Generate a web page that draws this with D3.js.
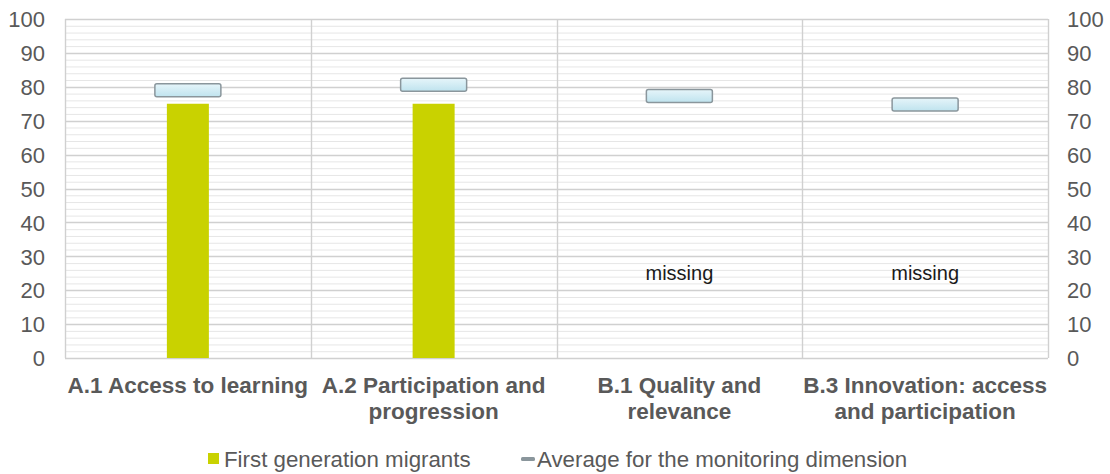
<!DOCTYPE html>
<html>
<head>
<meta charset="utf-8">
<script src="https://cdn.jsdelivr.net/npm/d3@7"></script>
<style>
  body { margin: 0; background: #fff; }
  text { font-family: "Liberation Sans", Arial, sans-serif; }
</style>
</head>
<body>
<div id="chart"></div>
<script>
var categories = [["A.1 Access to learning"], ["A.2 Participation and", "progression"], ["B.1 Quality and", "relevance"], ["B.3 Innovation: access", "and participation"]];
var migrants = [75, 75, null, null];
var averages = [79, 80.6, 77.3, 74.8];
var yTicks = [0, 10, 20, 30, 40, 50, 60, 70, 80, 90, 100];
var legendLabels = ["First generation migrants", "Average for the monitoring dimension"];

var W = 1110, H = 474;
var margin = {left: 65, right: 62, top: 19, bottom: 116};

var svg = d3.select('#chart').append('svg')
	.attr('width', W).attr('height', H);

var defs = svg.append('defs');
var grad = defs.append('linearGradient').attr('id', 'avgGrad')
	.attr('x1', 0).attr('y1', 0).attr('x2', 0).attr('y2', 1);
grad.append('stop').attr('offset', '0%').attr('stop-color', '#e6f5fa');
grad.append('stop').attr('offset', '100%').attr('stop-color', '#bfe3ee');

var x = d3.scaleBand().domain(d3.range(categories.length))
	.range([margin.left, W - margin.right]).padding(0);
var y = d3.scaleLinear().domain([0, 100]).range([H - margin.bottom, margin.top]);

// minor grid
var g = svg.append('g');
g.selectAll('.minor').data(d3.range(0, 101, 2).filter(function(v){ return v % 10 != 0; }))
	.enter().append('line')
	.attr('x1', margin.left).attr('x2', W - margin.right)
	.attr('y1', function(d){ return y(d) + 0.5; }).attr('y2', function(d){ return y(d) + 0.5; })
	.attr('stroke', '#e6e6e6').attr('stroke-width', 1);
// major grid
g.selectAll('.major').data(yTicks).enter().append('line')
	.attr('x1', margin.left).attr('x2', W - margin.right)
	.attr('y1', function(d){ return Math.round(y(d)) + 0.5; }).attr('y2', function(d){ return Math.round(y(d)) + 0.5; })
	.attr('stroke', '#d0d0d0').attr('stroke-width', 1.4);
// vertical separators
g.selectAll('.sep').data(d3.range(categories.length + 1)).enter().append('line')
	.attr('x1', function(i){ return Math.round(margin.left + i * x.step()) + 0.5; })
	.attr('x2', function(i){ return Math.round(margin.left + i * x.step()) + 0.5; })
	.attr('y1', y(100)).attr('y2', y(0))
	.attr('stroke', '#d0d0d0').attr('stroke-width', 1.4);

// axes
var axL = svg.append('g').attr('transform', 'translate(' + (margin.left - 20) + ',0)')
	.call(d3.axisLeft(y).tickValues(yTicks).tickSize(0).tickPadding(0));
var axR = svg.append('g').attr('transform', 'translate(' + (W - margin.right + 19) + ',0)')
	.call(d3.axisRight(y).tickValues(yTicks).tickSize(0).tickPadding(0));
[axL, axR].forEach(function(a){
	a.select('.domain').remove();
	a.selectAll('text').attr('fill', '#595959').style('font-size', '22px')
		.style('font-family', '"Liberation Sans", Arial, sans-serif').attr('dy', '0.35em');
});

// bars
svg.selectAll('.bar').data(migrants).enter()
	.filter(function(d){ return d != null; })
	.append('rect')
	.attr('x', function(d, i){ return x(i) + x.bandwidth() / 2 - 21; })
	.attr('width', 42)
	.attr('y', function(d){ return y(d); })
	.attr('height', function(d){ return y(0) - y(d); })
	.attr('fill', '#c9d200');

// "missing" labels
migrants.forEach(function(d, i){
	if (d == null) {
		svg.append('text').attr('x', x(i) + x.bandwidth() / 2).attr('y', y(25))
			.attr('text-anchor', 'middle').attr('dy', '0.35em')
			.style('font-size', '20px').attr('fill', '#1a1a1a').text('missing');
	}
});

// average markers
svg.selectAll('.avg').data(averages).enter().append('rect')
	.attr('x', function(d, i){ return x(i) + x.bandwidth() / 2 - 33; })
	.attr('width', 66)
	.attr('y', function(d){ return y(d) - 6.5; })
	.attr('height', 13)
	.attr('rx', 2).attr('ry', 2)
	.attr('fill', 'url(#avgGrad)')
	.attr('stroke', '#8a969c').attr('stroke-width', 1.5);

// category labels
categories.forEach(function(lines, i){
	var t = svg.append('text').attr('text-anchor', 'middle')
		.attr('fill', '#595959').style('font-size', '22.5px').style('font-weight', 'bold');
	lines.forEach(function(l, j){
		t.append('tspan').attr('x', x(i) + x.bandwidth() / 2)
			.attr('y', 393 + j * 26).text(l);
	});
});

// legend
var lg = svg.append('g');
lg.append('rect').attr('x', 208).attr('y', 453).attr('width', 11).attr('height', 11).attr('fill', '#c9d200');
lg.append('text').attr('x', 224).attr('y', 467).attr('fill', '#595959').style('font-size', '22.3px').text(legendLabels[0]);
lg.append('rect').attr('x', 521).attr('y', 457).attr('width', 14).attr('height', 4).attr('rx', 1.5)
	.attr('fill', '#8a969c');
lg.append('text').attr('x', 537).attr('y', 467).attr('fill', '#595959').style('font-size', '22.3px').text(legendLabels[1]);
</script>
</body>
</html>
